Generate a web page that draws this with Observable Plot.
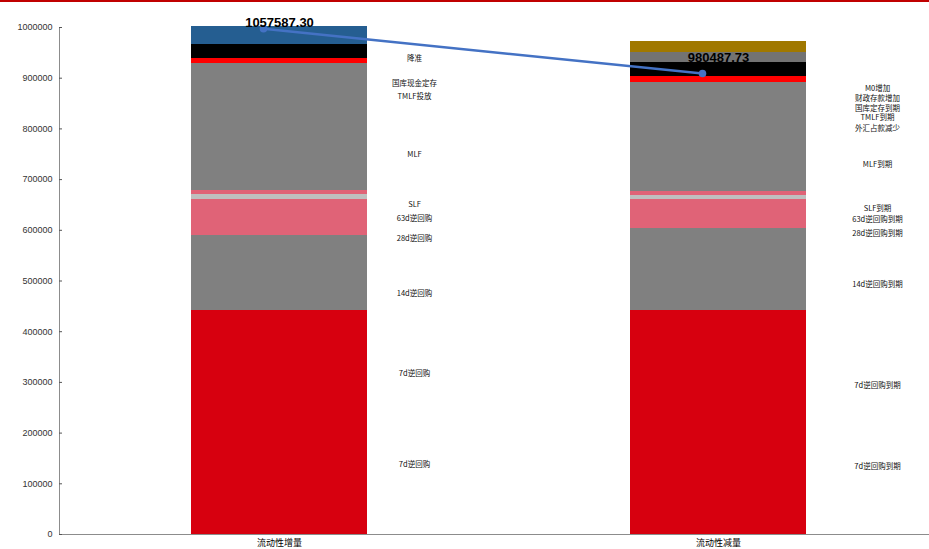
<!DOCTYPE html>
<html><head><meta charset="utf-8">
<script src="https://cdn.jsdelivr.net/npm/d3@7"></script>
<script src="https://cdn.jsdelivr.net/npm/@observablehq/plot@0.6"></script>
<style>
body{margin:0;background:#fff;}
#wrap{position:relative;width:929px;height:549px;}
#topline{position:absolute;left:0;top:0;width:929px;height:2px;background:#C00000;}
</style></head>
<body><div id="wrap"><div id="topline"></div><div id="chart"></div></div>
<script>
const categories = ["流动性增量", "流动性减量"];

// stacked segments, bottom to top
const incNames  = ["7d逆回购","7d逆回购","14d逆回购","28d逆回购","63d逆回购","SLF","MLF","TMLF投放","国库现金定存","降准"];
const incValues = [280000, 161800, 147900, 71600, 8700, 8500, 249900, 9900, 27600, 36100];
const incColors = ["#D7000F","#D7000F","#808080","#E06377","#BFBFBF","#E06377","#808080","#FF0000","#000000","#255E91"];

const decNames  = ["7d逆回购到期","7d逆回购到期","14d逆回购到期","28d逆回购到期","63d逆回购到期","SLF到期","MLF到期","TMLF到期","国库定存到期","财政存款增加","M0增加"];
const decValues = [272000, 169800, 162300, 56100, 8500, 7900, 215600, 11200, 27000, 20300, 22300];
const decColors = ["#D7000F","#D7000F","#808080","#E06377","#BFBFBF","#E06377","#808080","#FF0000","#000000","#737373","#A07800"];

// side labels and the value level they sit at
const incLabelNames  = ["降准","国库现金定存","TMLF投放","MLF","SLF","63d逆回购","28d逆回购","14d逆回购","7d逆回购","7d逆回购"];
const incLabelLevels = [938300, 890100, 864500, 748900, 650300, 623900, 583200, 474800, 317000, 138100];
const decLabelNames  = ["M0增加","财政存款增加","国库定存到期","TMLF到期","外汇占款减少","MLF到期","SLF到期","63d逆回购到期","28d逆回购到期","14d逆回购到期","7d逆回购到期","7d逆回购到期"];
const decLabelLevels = [879100, 859400, 839600, 821500, 801400, 729200, 642400, 621300, 593100, 492500, 293900, 134100];

// total line
const lineValues  = [997400, 909300];
const totalLabels = ["1057587.30", "980487.73"];

const yTicks = [0,100000,200000,300000,400000,500000,600000,700000,800000,900000,1000000];

const segments = [
  ...incNames.map((n,i)=>({cat:categories[0], name:n, value:incValues[i], color:incColors[i]})),
  ...decNames.map((n,i)=>({cat:categories[1], name:n, value:decValues[i], color:decColors[i]}))
];
const incLabels = incLabelNames.map((n,i)=>({cat:categories[0], name:n, level:incLabelLevels[i]}));
const decLabels = decLabelNames.map((n,i)=>({cat:categories[1], name:n, level:decLabelLevels[i]}));
const line = categories.map((c,i)=>({cat:c, value:lineValues[i], label:totalLabels[i]}));

const cjk = "'Noto Sans CJK SC', sans-serif";
const chart = Plot.plot({
  width: 929, height: 549,
  marginLeft: 59, marginRight: 0, marginTop: 27, marginBottom: 15,
  style: {background: "transparent", fontFamily: "'Liberation Sans', Arial, sans-serif"},
  x: {domain: categories, range: [59, 938], paddingInner: 0.6, paddingOuter: 0.3, label: null},
  y: {domain: [0, 1000000], label: null},
  marks: [
    Plot.barY(segments, {x: "cat", y: "value", fill: "color", order: null, shapeRendering: "crispEdges"}),
    Plot.frame({anchor: "left", stroke: "#8c8c8c", strokeWidth: 1}),
    Plot.ruleY([0], {stroke: "#8c8c8c", strokeWidth: 1.2}),
    Plot.axisY({ticks: yTicks, tickSize: 0, tickPadding: 7, tickFormat: d => String(d), fontSize: 9, fill: "#333", label: null}),
    Plot.axisY({ticks: yTicks, tickSize: 3, text: null, dx: 3, stroke: "#555", label: null}),
    Plot.axisX({tickSize: 0, tickPadding: 5, fontSize: 9, fontFamily: cjk, fill: "#000", label: null}),
    Plot.text(incLabels, {x: "cat", y: "level", text: "name", dx: 135, fontSize: 7.5, fontFamily: cjk, fill: "#111"}),
    Plot.text(decLabels, {x: "cat", y: "level", text: "name", dx: 159, fontSize: 7.5, fontFamily: cjk, fill: "#111"}),
    Plot.line(line, {x: "cat", y: "value", dx: -16, stroke: "#4472C4", strokeWidth: 2.5}),
    Plot.dot(line, {x: "cat", y: "value", dx: -16, r: 3.8, fill: "#4472C4"}),
    Plot.text(line.slice(0,1), {x: "cat", y: "value", text: "label", dy: -6, fontSize: 13, fontWeight: "bold", fill: "#000"}),
    Plot.text(line.slice(1,2), {x: "cat", y: "value", text: "label", dy: -16, fontSize: 13, fontWeight: "bold", fill: "#000"})
  ]
});
document.getElementById("chart").appendChild(chart);
</script></body></html>
